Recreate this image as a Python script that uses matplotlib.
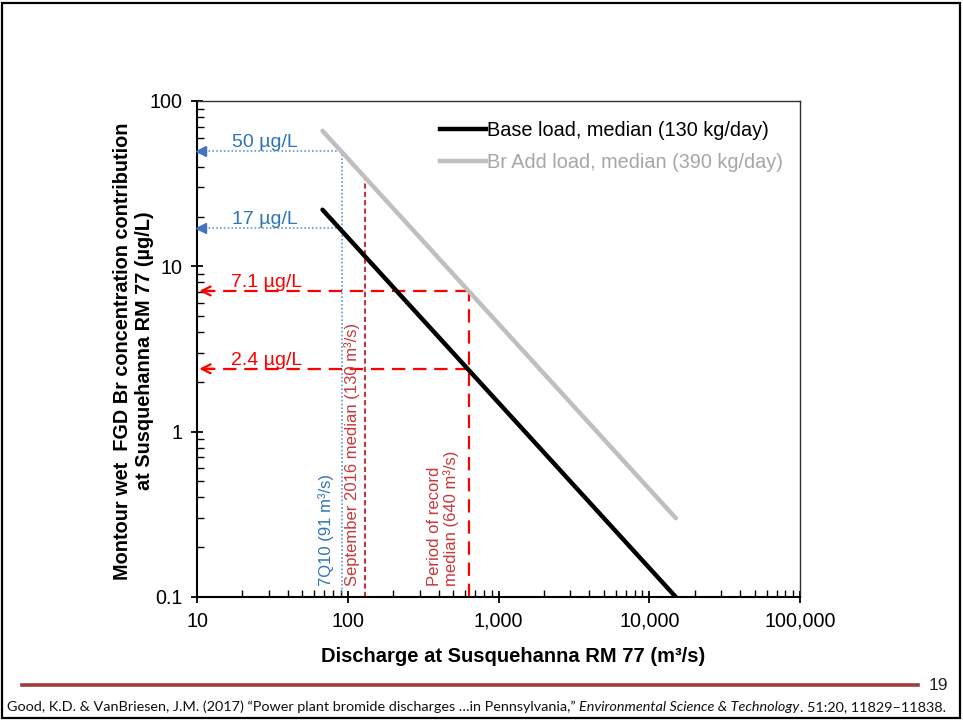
import matplotlib
matplotlib.use("Agg")
import matplotlib.pyplot as plt
from matplotlib.patches import Rectangle
from matplotlib.lines import Line2D
from matplotlib.ticker import FixedLocator, LogLocator, NullFormatter

plt.rcParams['font.family'] = ['Liberation Sans', 'DejaVu Sans']

# ---- data ----
base_q = [68, 15000]          # discharge (m3/s)
base_c = [22.0, 0.1]          # concentration (ug/L)
add_q = [68, 15000]
add_c = [66.0, 0.3]
series_labels = ["Base load, median (130 kg/day)", "Br Add load, median (390 kg/day)"]

q_7q10 = 91
c_7q10 = [50, 17]             # at 7Q10, add / base
q_sept = 130
c_sept_top = 35
q_por = 640
c_por = [7.1, 2.4]            # at period of record median, add / base

x_ticks = [10, 100, 1000, 10000, 100000]
x_ticklabels = ["10", "100", "1,000", "10,000", "100,000"]
y_ticks = [0.1, 1, 10, 100]
y_ticklabels = ["0.1", "1", "10", "100"]

W, H = 963, 721
fig = plt.figure(figsize=(W / 100, H / 100), dpi=100)
ax = fig.add_axes([197 / W, 1 - 597 / H, (800 - 197) / W, (597 - 101) / H])
ax.set_xscale('log')
ax.set_yscale('log')
ax.set_xlim(10, 100000)
ax.set_ylim(0.1, 100)

blue_line = '#5B9BD5'
blue_text = '#2E75B6'
red = '#FF0000'
dark_red = '#C8383A'

# curves
ax.plot(add_q, add_c, color='#BFBFBF', lw=3.2, solid_capstyle='round', zorder=3, label=series_labels[1])
ax.plot(base_q, base_c, color='black', lw=3.2, solid_capstyle='round', zorder=4, label=series_labels[0])

# 7Q10 blue dotted lines
ax.plot([q_7q10, q_7q10], [0.1, c_7q10[0]], color=blue_line, lw=1.2, ls=(0, (1, 1.3)), zorder=2)
for c in c_7q10:
    ax.plot([10, q_7q10], [c, c], color=blue_line, lw=1.2, ls=(0, (1, 1.3)), zorder=2)
    ax.plot([10.6], [c], marker='<', color='#4472C4', ms=7, mec='#4472C4', zorder=5, clip_on=False)

# September 2016 median
ax.plot([q_sept, q_sept], [0.1, c_sept_top], color=dark_red, lw=1.5, ls=(0, (2.5, 1.5)), zorder=2)

# Period of record median
ax.plot([q_por, q_por], [0.1, c_por[0]], color=red, lw=1.6, ls=(0, (6, 3.5)), zorder=2)
for c in c_por:
    ax.plot([10.8, q_por], [c, c], color=red, lw=1.6, ls=(0, (6, 3.5)), zorder=2)
    ax.annotate('', xy=(10.35, c), xytext=(13, c),
                arrowprops=dict(arrowstyle='->', color=red, lw=1.6, mutation_scale=16,
                                shrinkA=0, shrinkB=0), zorder=5)

# level labels
lvl_fs = 14
ax.text(17, 50, "50 µg/L", color=blue_text, fontsize=lvl_fs, ha='left', va='bottom')
ax.text(17, 17, "17 µg/L", color=blue_text, fontsize=lvl_fs, ha='left', va='bottom')
ax.text(16.7, 7.1, "7.1 µg/L", color=red, fontsize=lvl_fs, ha='left', va='bottom')
ax.text(16.7, 2.4, "2.4 µg/L", color=red, fontsize=lvl_fs, ha='left', va='bottom')

# rotated labels
rot_fs = 12
ax.text(72, 0.117, "7Q10 (91 m³/s)", color=blue_text, fontsize=rot_fs, rotation=90,
        ha='center', va='bottom')
ax.text(107, 0.117, "September 2016 median (130 m³/s)", color=dark_red, fontsize=rot_fs,
        rotation=90, ha='center', va='bottom')
ax.text(428, 0.117, "Period of record\nmedian (640 m³/s)", color=dark_red, fontsize=rot_fs,
        rotation=90, ha='center', va='bottom', multialignment='left', linespacing=1.05)

# axes styling
ax.xaxis.set_major_locator(FixedLocator(x_ticks))
ax.set_xticklabels(x_ticklabels)
ax.yaxis.set_major_locator(FixedLocator(y_ticks))
ax.set_yticklabels(y_ticklabels)
ax.xaxis.set_minor_locator(LogLocator(base=10, subs=range(2, 10), numticks=20))
ax.yaxis.set_minor_locator(LogLocator(base=10, subs=range(2, 10), numticks=20))
ax.xaxis.set_minor_formatter(NullFormatter())
ax.yaxis.set_minor_formatter(NullFormatter())
ax.tick_params(which='major', direction='inout', length=9, width=1.3, labelsize=14.2,
               colors='black', pad=6)
ax.tick_params(which='minor', direction='in', length=5, width=1)
for s in ['left', 'bottom']:
    ax.spines[s].set_linewidth(1.5)
for s in ['top', 'right']:
    ax.spines[s].set_linewidth(1.0)
    ax.spines[s].set_color('#303030')

ax.set_xlabel("Discharge at Susquehanna RM 77 (m³/s)", fontsize=14.5,
              fontweight='bold', labelpad=12)
ax.xaxis.label.set_x(0.524)
ax.set_ylabel("Montour wet  FGD Br concentration contribution\nat Susquehanna RM 77 (µg/L)",
              fontsize=14.3, fontweight='bold', linespacing=1.2)
ax.yaxis.set_label_coords(-0.072, 0.496)

handles = [Line2D([], [], color='black', lw=3.2), Line2D([], [], color='#BFBFBF', lw=3.2)]
leg = ax.legend(handles, series_labels, loc='upper left', bbox_to_anchor=(0.390, 0.975),
                frameon=False, fontsize=14.3, handlelength=2.3, handletextpad=0.05,
                labelspacing=0.62, borderaxespad=0)
leg.get_texts()[1].set_color('#A6A6A6')

# slide frame
fig.patches.append(Rectangle((2 / W, 3 / H), (960 - 2) / W, (718 - 3) / H, transform=fig.transFigure,
                             fill=False, ec='black', lw=1.6))
# footer rule and page number
fig.add_artist(Line2D([22 / W, 918 / W], [1 - 685 / H, 1 - 685 / H], color='#A03C3C', lw=2.6))
fig.text(929 / W, 1 - 686 / H, "19", fontsize=12.5, va='center', ha='left', color='#222222')

# citation with italic journal name
parts = [("Good, K.D. & VanBriesen, J.M. (2017) \u201cPower plant bromide discharges \u2026in Pennsylvania,\u201d ", 'normal'),
         ("Environmental Science & Technology", 'italic'),
         (". 51:20, 11829\u201311838.", 'normal')]
fig.canvas.draw()
r = fig.canvas.get_renderer()
x0 = 7
yb = 1 - 707 / H
for txt, style in parts:
    t = fig.text(x0 / W, yb, txt, fontsize=10.35, style=style, family=['Lato', 'DejaVu Sans'],
                 va='center', ha='left', color='#111111')
    bb = t.get_window_extent(renderer=r)
    x0 += bb.width

fig.savefig("out.png", dpi=100)
